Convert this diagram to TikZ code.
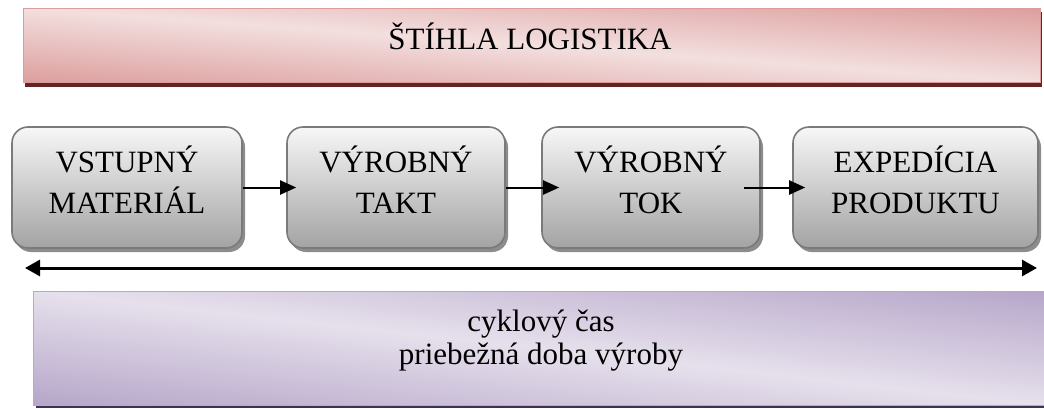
\documentclass[tikz,border=0pt]{standalone}
\usepackage{fontspec}
\setmainfont{Liberation Serif}
\usetikzlibrary{arrows.meta}

\definecolor{pinkdark}{HTML}{D68E8C}
\definecolor{pinklight}{HTML}{F3DFDF}
\definecolor{pinkedge}{HTML}{DB9C9B}
\definecolor{pinkshadow}{HTML}{632523}
\definecolor{lilacdark}{HTML}{B09FC5}
\definecolor{lilaclight}{HTML}{E6E0EC}
\definecolor{lilacedge}{HTML}{B8A8CC}
\definecolor{lilacshadow}{HTML}{3F3151}
\definecolor{boxedge}{HTML}{7A7A7A}
\definecolor{boxtop}{HTML}{F7F7F7}
\definecolor{boxbottom}{HTML}{A3A3A3}
\definecolor{boxshadow}{HTML}{8C8C8C}

% band gradients: dark edges, light stripe through the middle
\pgfdeclareverticalshading{pinkband}{100bp}{color(0bp)=(pinkdark); color(34bp)=(pinkdark);
  color(50bp)=(pinklight); color(66bp)=(pinkdark); color(100bp)=(pinkdark)}
\pgfdeclareverticalshading{lilacband}{100bp}{color(0bp)=(lilacdark); color(36bp)=(lilacdark);
  color(50bp)=(lilaclight); color(64bp)=(lilacdark); color(100bp)=(lilacdark)}

\tikzset{
  stagebox/.style={rounded corners=16pt, draw=boxedge, line width=1.6pt,
    top color=boxtop, bottom color=boxbottom, inner sep=0pt},
  stageshadow/.style={rounded corners=16pt, fill=boxshadow, draw=none},
  stagetext/.style={align=center, inner sep=0pt,
    font=\fontsize{31}{41}\selectfont},
  bannertext/.style={inner sep=0pt, font=\fontsize{31}{33}\selectfont},
  flow/.style={line width=2pt, -{Triangle[length=16pt,width=14pt]}},
  span/.style={line width=3pt, {Triangle[length=15pt,width=16pt]}-{Triangle[length=15pt,width=16pt]}}
}

\begin{document}
\begin{tikzpicture}[x=1pt, y=-1pt]
\useasboundingbox (0,0) rectangle (1044,408);

% --- top banner ---
\fill[pinkshadow] (25,12) rectangle (1042,87);
\begin{scope}
  \clip (23,8) rectangle (1040,82);
  \shade[transform canvas={rotate around={-4.2:(531.5,45)}}, shading=pinkband]
    (-60,-101) rectangle (1120,191);
\end{scope}
\node[draw=pinkedge, line width=1pt, minimum width=1017pt, minimum height=74pt,
  inner sep=0pt] (top) at (531.5,45) {};
\node[bannertext, anchor=base] (toptext) at (530,49.5) {ŠTÍHLA LOGISTIKA};

% --- process stages ---
\foreach \xa/\xb [count=\i] in {12/242, 287/505, 542/760, 793/1038} {
  \fill[stageshadow] (\xa+3,131) rectangle (\xb+3,252);
  \node[stagebox, minimum width={\xb-\xa}, minimum height=121pt]
    (b\i) at ({(\xa+\xb)/2},187.5) {};
}
\node[stagetext, yshift=7.8pt] (t1) at (b1) {VSTUPNÝ\\MATERIÁL};
\node[stagetext, yshift=7.8pt] (t2) at (b2) {VÝROBNÝ\\TAKT};
\node[stagetext, yshift=7.8pt] (t3) at (b3) {VÝROBNÝ\\TOK};
\node[stagetext, yshift=7.8pt] (t4) at (b4) {EXPEDÍCIA\\PRODUKTU};

\draw[flow] (b1.east) -- ([xshift=10pt]b2.west);
\draw[flow] (b2.east) -- ([xshift=18pt]b3.west);
\draw[flow] ([xshift=-17pt]b3.east) -- ([xshift=13pt]b4.west);

% --- overall time span ---
\coordinate (spanL) at (25,268);
\coordinate (spanR) at (1037,268);
\draw[span] (spanL) -- (spanR);

% --- bottom banner ---
\fill[lilacshadow] (36,295) rectangle (1047,408);
\begin{scope}
  \clip (33,291) rectangle (1044,405);
  \shade[transform canvas={rotate around={-6.4:(538.5,348)}}, shading=lilacband]
    (-60,122) rectangle (1140,574);
\end{scope}
\node[draw=lilacedge, line width=1pt, minimum width=1011pt, minimum height=114pt,
  inner sep=0pt] (bottom) at (538.5,348) {};
\node[bannertext, align=center] (bottomtext) at (541,340.5)
  {cyklový čas\\priebežná doba výroby};
\end{tikzpicture}
\end{document}
